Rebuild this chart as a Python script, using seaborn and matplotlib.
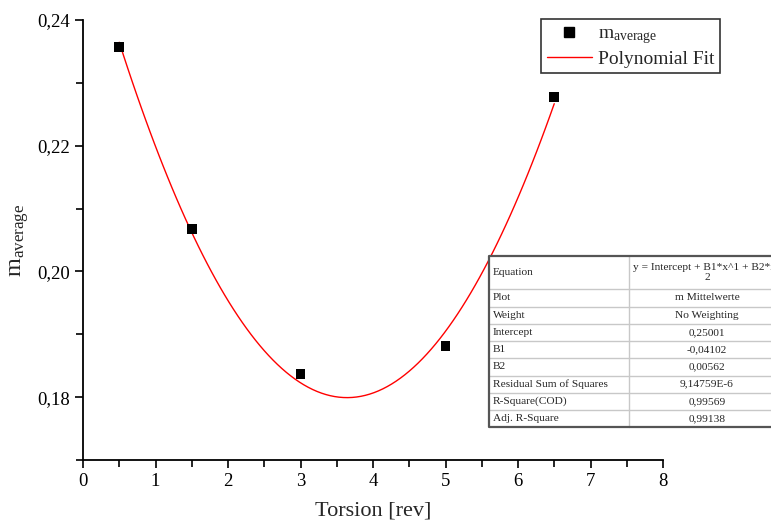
import numpy as np
import pandas as pd
import matplotlib
matplotlib.use('Agg')
import matplotlib.pyplot as plt
import seaborn as sns
from matplotlib.lines import Line2D
from matplotlib.ticker import MultipleLocator

sns.set_style("ticks")
plt.rcParams['font.family'] = ['Liberation Serif', 'DejaVu Serif']
plt.rcParams['mathtext.fontset'] = 'custom'
plt.rcParams['mathtext.rm'] = 'Liberation Serif'
plt.rcParams['mathtext.it'] = 'Liberation Serif:italic'

# data
torsion = [0.5, 1.5, 3.0, 5.0, 6.5]
m_average = [0.2357, 0.2068, 0.1837, 0.1882, 0.2277]

xticks = [0, 1, 2, 3, 4, 5, 6, 7, 8]
yticks = [0.18, 0.20, 0.22, 0.24]
ytick_labels = ['0,18', '0,20', '0,22', '0,24']

table_keys = ['Equation', 'Plot', 'Weight', 'Intercept', 'B1', 'B2',
              'Residual Sum of Squares', 'R-Square(COD)', 'Adj. R-Square']
table_vals = ['y = Intercept + B1*x^1 + B2*x^\n2', 'm Mittelwerte', 'No Weighting',
              '0,25001', '-0,04102', '0,00562', '9,14759E-6', '0,99569', '0,99138']

df = pd.DataFrame({'torsion': torsion, 'm': m_average})

W, H = 771, 532
fig = plt.figure(figsize=(W/100, H/100), dpi=100)
ax = fig.add_axes([83/W, 1-460/H, 580/W, 440/H])

# polynomial fit (order 2) drawn by seaborn
sns.regplot(data=df, x='torsion', y='m', order=2, ci=None, scatter=False,
            truncate=True, color='red', line_kws=dict(lw=1), ax=ax)
sns.scatterplot(data=df, x='torsion', y='m', marker='s', s=50, color='k',
                edgecolor='none', ax=ax, zorder=3)

ax.set_xlim(0, 8)
ax.set_ylim(0.17, 0.24)
ax.set_xticks(xticks)
ax.set_yticks(yticks)
ax.set_yticklabels(ytick_labels)
ax.xaxis.set_minor_locator(MultipleLocator(0.5))
ax.yaxis.set_minor_locator(MultipleLocator(0.01))
ax.tick_params(which='major', direction='out', length=6, width=1.2, labelsize=13.5, colors='k')
ax.tick_params(which='minor', direction='out', length=5, width=1.2, colors='k')
for s in ['left', 'bottom']:
    ax.spines[s].set_linewidth(1.3)
    ax.spines[s].set_color('k')
sns.despine(ax=ax)
ax.set_xlabel('Torsion [rev]', fontsize=16, labelpad=8)
ax.set_ylabel('m$_{\\mathrm{average}}$', fontsize=17.5, labelpad=4)

handles = [Line2D([], [], marker='s', ls='none', color='k', markersize=7),
           Line2D([], [], color='red', lw=1)]
leg = fig.legend(handles, ['m$_{\\mathrm{average}}$', 'Polynomial Fit'],
                 loc='upper right', bbox_to_anchor=(720/W, 1-19/H),
                 bbox_transform=fig.transFigure, fontsize=14, frameon=True,
                 fancybox=False, edgecolor='#333333', framealpha=1,
                 borderaxespad=0, handlelength=2.3, handletextpad=0.3,
                 labelspacing=0.2, borderpad=0.3)
leg.get_frame().set_linewidth(1.2)

# results table drawn in pixel coordinates
tx = fig.add_axes([0, 0, 1, 1], zorder=5)
tx.set_xlim(0, W)
tx.set_ylim(H, 0)
tx.axis('off')
left, mid, right = 489, 629, 790
rows = [256, 289, 306.5, 324, 341, 358, 375.5, 393, 410, 427]
tx.add_patch(plt.Rectangle((left, rows[0]), right-left, rows[-1]-rows[0],
                           facecolor='white', edgecolor='none'))
for y in rows[1:-1]:
    tx.plot([left, right], [y, y], color='#c8c8c8', lw=1)
tx.plot([mid, mid], [rows[0], rows[-1]], color='#c8c8c8', lw=1)
tx.plot([right, left, left, right], [rows[0], rows[0], rows[-1], rows[-1]],
        color='#555555', lw=1.6)
for i, (k, v) in enumerate(zip(table_keys, table_vals)):
    yc = (rows[i] + rows[i+1]) / 2
    tx.text(left+4, yc, k, ha='left', va='center', fontsize=8.2)
    tx.text(707, yc, v, ha='center', va='center', fontsize=8.2, linespacing=1.0)

fig.savefig('out.png', dpi=100)
